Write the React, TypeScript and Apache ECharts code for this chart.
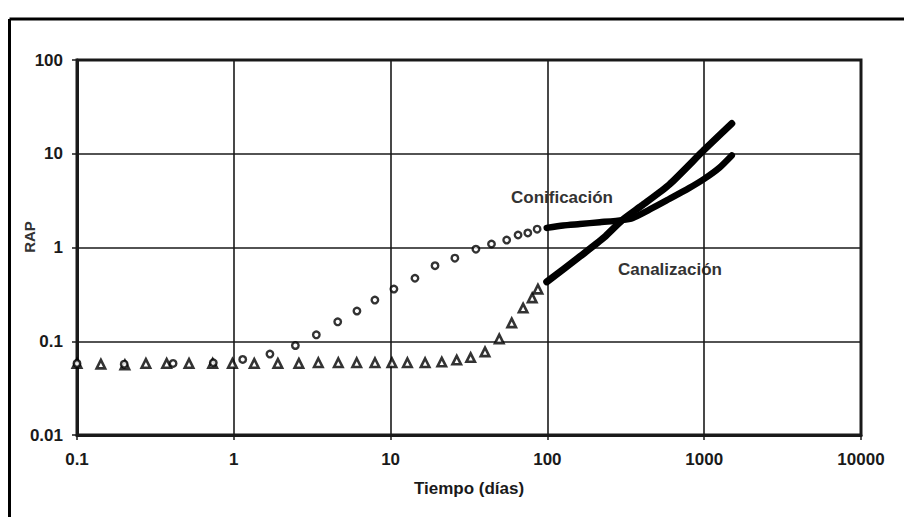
import React, { useEffect, useRef } from "react";
import * as echarts from "echarts";

// Tick labels
const xTickValues = [0.1, 1, 10, 100, 1000, 10000];
const xTickLabels = ["0.1", "1", "10", "100", "1000", "10000"];
const yTickValues = [0.01, 0.1, 1, 10, 100];
const yTickLabels = ["0.01", "0.1", "1", "10", "100"];

// Canalización – sparse triangles
const canalPtsX = [0.1, 0.142, 0.202, 0.275, 0.373, 0.518, 0.733, 0.98, 1.35, 1.91, 2.6, 3.46, 4.64, 6.08, 7.95, 10.2, 12.8, 16.6, 21.2, 26.4, 32.4, 40, 49.3, 59.2, 70, 80, 87];
const canalPtsY = [0.058, 0.057, 0.056, 0.058, 0.058, 0.058, 0.058, 0.058, 0.058, 0.058, 0.058, 0.059, 0.059, 0.059, 0.059, 0.059, 0.059, 0.059, 0.06, 0.063, 0.067, 0.077, 0.106, 0.157, 0.226, 0.29, 0.36];

// Conificación – sparse circles
const conifPtsX = [0.1, 0.2, 0.41, 0.74, 1.14, 1.7, 2.47, 3.36, 4.6, 6.1, 7.94, 10.5, 14.3, 19.2, 25.7, 35, 44, 55, 65, 75, 86];
const conifPtsY = [0.058, 0.057, 0.058, 0.059, 0.064, 0.073, 0.09, 0.117, 0.161, 0.21, 0.275, 0.36, 0.47, 0.64, 0.77, 0.96, 1.09, 1.2, 1.36, 1.43, 1.57];

// Dense (continuous) parts
const canalLineX = [99, 161, 230, 300, 400, 600, 1000, 1500];
const canalLineY = [0.43, 0.8, 1.28, 1.96, 2.8, 4.7, 11, 21];
const conifLineX = [99, 126, 161, 216, 300, 351, 450, 579, 800, 1000, 1250, 1500];
const conifLineY = [1.62, 1.72, 1.78, 1.86, 1.96, 2.07, 2.55, 3.2, 4.3, 5.4, 7.1, 9.6];

const FONT = "'Liberation Sans', Arial, sans-serif";
const INK = "#1a1a1a";

function zip(xs: number[], ys: number[]) {
  return xs.map((x, i) => [x, ys[i]]);
}

function labelFor(values: number[], labels: string[]) {
  return (v: number) => {
    const i = values.findIndex((t) => Math.abs(Math.log10(t) - Math.log10(v)) < 1e-6);
    return i >= 0 ? labels[i] : "";
  };
}

export default function App() {
  const ref = useRef<HTMLDivElement>(null);
  useEffect(() => {
    if (!ref.current) return;
    const chart = echarts.init(ref.current, undefined, { renderer: "svg" });
    chart.setOption({
      animation: false,
      backgroundColor: "#ffffff",
      grid: {
        left: 77,
        right: 43,
        top: 60,
        bottom: 82,
        show: true,
        borderColor: INK,
        borderWidth: 3,
        outerBoundsMode: "none",
      },
      xAxis: {
        type: "log",
        logBase: 10,
        min: 0.1,
        max: 10000,
        name: "Tiempo (días)",
        nameLocation: "middle",
        nameGap: 45,
        nameTextStyle: { fontFamily: FONT, fontSize: 17, fontWeight: "bold", color: INK },
        axisLine: { show: true, lineStyle: { color: INK, width: 3 } },
        axisTick: { show: true, length: 5, lineStyle: { color: INK, width: 1.5 } },
        minorTick: { show: false },
        axisLabel: {
          margin: 16,
          fontFamily: FONT,
          fontSize: 17,
          fontWeight: "bold",
          color: INK,
          formatter: labelFor(xTickValues, xTickLabels),
        },
        splitLine: { show: true, lineStyle: { color: INK, width: 1.6 } },
      },
      yAxis: {
        type: "log",
        logBase: 10,
        min: 0.01,
        max: 100,
        axisLine: { show: true, lineStyle: { color: INK, width: 3 } },
        axisTick: { show: true, length: 5, lineStyle: { color: INK, width: 1.5 } },
        axisLabel: {
          margin: 14,
          fontFamily: FONT,
          fontSize: 17,
          fontWeight: "bold",
          color: INK,
          formatter: labelFor(yTickValues, yTickLabels),
        },
        splitLine: { show: true, lineStyle: { color: INK, width: 1.6 } },
      },
      graphic: [
        { type: "line", shape: { x1: 9.5, y1: 19, x2: 904, y2: 19 }, style: { stroke: "#000", lineWidth: 3 } },
        { type: "line", shape: { x1: 9.5, y1: 19, x2: 9.5, y2: 517 }, style: { stroke: "#000", lineWidth: 3 } },
        {
          type: "text",
          x: 29.5,
          y: 237,
          rotation: Math.PI / 2,
          style: { text: "RAP", fontFamily: FONT, fontSize: 15, fontWeight: "bold", fill: "#333", align: "center", verticalAlign: "middle" },
        },
        {
          type: "text",
          x: 562,
          y: 197,
          style: { text: "Conificación", fontFamily: FONT, fontSize: 17, fontWeight: "bold", fill: "#333", align: "center", verticalAlign: "middle" },
        },
        {
          type: "text",
          x: 670,
          y: 269,
          style: { text: "Canalización", fontFamily: FONT, fontSize: 17, fontWeight: "bold", fill: "#333", align: "center", verticalAlign: "middle" },
        },
      ],
      series: [
        {
          name: "Canalización línea",
          type: "line",
          data: zip(canalLineX, canalLineY),
          showSymbol: false,
          smooth: 0.2,
          lineStyle: { color: "#000", width: 7, cap: "round", join: "round" },
          z: 3,
        },
        {
          name: "Conificación línea",
          type: "line",
          data: zip(conifLineX, conifLineY),
          showSymbol: false,
          smooth: 0.2,
          lineStyle: { color: "#000", width: 6.5, cap: "round", join: "round" },
          z: 3,
        },
        {
          name: "Canalización",
          type: "scatter",
          symbol: "triangle",
          symbolSize: 8.5,
          data: zip(canalPtsX, canalPtsY),
          itemStyle: { color: "#fff", borderColor: "#000", borderWidth: 2.6 },
          z: 4,
        },
        {
          name: "Conificación",
          type: "scatter",
          symbol: "circle",
          symbolSize: 6.5,
          data: zip(conifPtsX, conifPtsY),
          itemStyle: { color: "#fff", borderColor: "#000", borderWidth: 2.4 },
          z: 5,
        },
      ],
    });
    return () => chart.dispose();
  }, []);
  return <div ref={ref} style={{ position: "fixed", left: 0, top: 0, width: 904, height: 517 }} />;
}
